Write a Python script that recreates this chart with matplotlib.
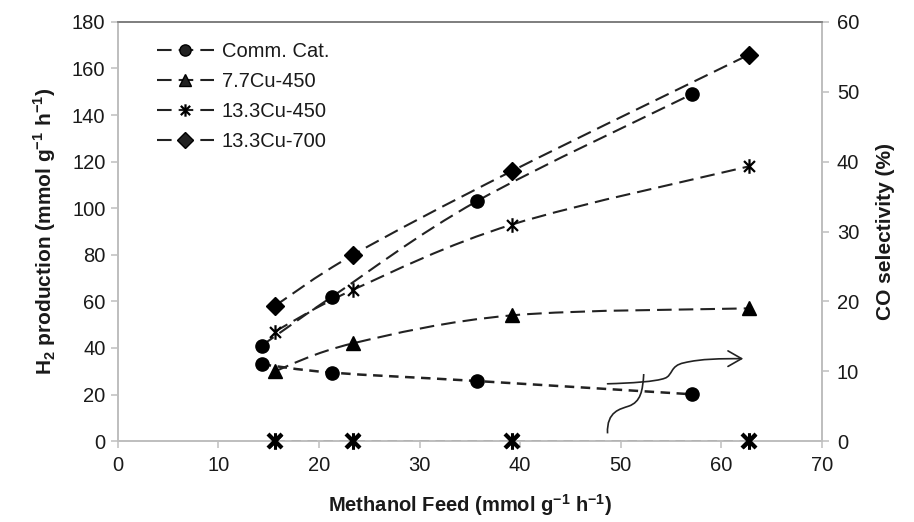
import matplotlib
matplotlib.use('Agg')
import matplotlib.pyplot as plt
from matplotlib.path import Path
from matplotlib.patches import PathPatch, FancyArrowPatch

plt.rcParams['font.family'] = ['Liberation Sans', 'DejaVu Sans']

# methanol feed (mmol g-1 h-1)
feed_comm = [14.3, 21.3, 35.7, 57.1]
feed_cu = [15.6, 23.4, 39.2, 62.8]

# H2 production (mmol g-1 h-1)
h2_comm = [41, 62, 103, 149]
h2_77_450 = [30, 42, 54, 57]
h2_133_450 = [47, 65, 93, 118]
h2_133_700 = [58, 80, 116, 166]

# CO selectivity (%)
co_comm = [11.0, 9.8, 8.6, 6.7]
co_cu = [0, 0, 0, 0]

labels = ['Comm. Cat.', '7.7Cu-450', '13.3Cu-450', '13.3Cu-700']

# arrow drawn over the CO curve (right axis coordinates)
brace_pts = [(48.7, 1.1), (48.6, 4.3), (50.0, 4.6), (50.8, 5.0),
             (52.0, 5.6), (52.2, 7.2), (52.3, 9.6)]
arrow_pts = [(48.7, 8.2), (51.0, 8.3), (53.5, 8.5), (54.4, 9.0),
             (55.2, 9.4), (54.9, 10.8), (56.3, 11.2),
             (58.0, 11.8), (60.0, 11.8), (62.2, 11.8)]

star = Path([(0, -1), (0, 1), (-0.75, -0.75), (0.75, 0.75), (-0.75, 0.75), (0.75, -0.75)],
            [Path.MOVETO, Path.LINETO] * 3)

long_dash = (0, (7, 3.4))
short_dash = (0, (3.8, 2.6))


def smooth(ax, x, y, ls, lw=1.5):
    # Excel style smoothed line through the points (Catmull-Rom as cubic Bezier)
    pts = list(zip(x, y))
    verts = [pts[0]]
    codes = [Path.MOVETO]
    for i in range(len(pts) - 1):
        p0 = pts[i - 1] if i > 0 else pts[i]
        p1 = pts[i]
        p2 = pts[i + 1]
        p3 = pts[i + 2] if i + 2 < len(pts) else pts[i + 1]
        c1 = (p1[0] + (p2[0] - p0[0]) / 6, p1[1] + (p2[1] - p0[1]) / 6)
        c2 = (p2[0] - (p3[0] - p1[0]) / 6, p2[1] - (p3[1] - p1[1]) / 6)
        verts += [c1, c2, p2]
        codes += [Path.CURVE4] * 3
    ax.add_patch(PathPatch(Path(verts, codes), fill=False, ec='#222222', lw=lw,
                           linestyle=ls, zorder=2))


fig = plt.figure(figsize=(9.14, 5.22), dpi=100)
ax = fig.add_axes([0.129, 0.155, 0.770, 0.803])
ax2 = ax.twinx()

series = [(feed_comm, h2_comm, 'o', 9.5),
          (feed_cu, h2_77_450, '^', 9.5),
          (feed_cu, h2_133_450, star, 10.5),
          (feed_cu, h2_133_700, 'D', 9)]
for (x, y, m, ms), lab in zip(series, labels):
    smooth(ax, x, y, long_dash)
    mew = 1.6 if m is star else 1
    ax.plot(x, y, linestyle='none', marker=m, ms=ms, color='black', mec='black',
            mew=mew, zorder=3)
    ax.plot([], [], linestyle=long_dash, lw=1.5, color='#222222', marker=m,
            ms=ms * 0.85, mec='black', mew=mew, label=lab)

smooth(ax2, feed_comm, co_comm, short_dash, lw=1.8)
ax2.plot(feed_comm, co_comm, linestyle='none', marker='o', ms=9.5, color='black', zorder=3)
ax2.plot(feed_cu, co_cu, linestyle=short_dash, lw=1.8, color='#222222', zorder=2)
ax2.plot(feed_cu, co_cu, linestyle='none', marker=star, ms=12, mec='black', mew=2.2,
         zorder=3, clip_on=False)
ax2.plot(feed_cu, co_cu, linestyle='none', marker='x', ms=10, mec='black', mew=3,
         zorder=3, clip_on=False)

# curly arrow
ax2.add_patch(PathPatch(Path(brace_pts, [Path.MOVETO] + [Path.CURVE4] * 6), fill=False,
                        ec='#222222', lw=1.2, zorder=4))
arr = FancyArrowPatch(path=Path(arrow_pts, [Path.MOVETO] + [Path.CURVE4] * 9),
                      arrowstyle='->,head_length=0.7,head_width=0.4', mutation_scale=14,
                      color='#222222', lw=1.2, transform=ax2.transData, zorder=4)
ax2.add_patch(arr)

ax.set_xlim(0, 70)
ax.set_ylim(0, 180)
ax2.set_ylim(0, 60)
ax.set_xticks(range(0, 71, 10))
ax.set_yticks(range(0, 181, 20))
ax2.set_yticks(range(0, 61, 10))

for a in (ax, ax2):
    for s in a.spines.values():
        s.set_color('#bfbfbf')
        s.set_linewidth(1.3)
    a.spines['top'].set_color('#808080')
    a.tick_params(labelsize=14.5, colors='#bfbfbf', labelcolor='#1a1a1a',
                  length=5, width=1.1, direction='out')
ax.tick_params(axis='x', pad=6)
ax.tick_params(axis='y', pad=4)
ax2.tick_params(axis='y', pad=6)

ax.set_xlabel('Methanol Feed (mmol g$^{\\mathregular{-1}}$ h$^{\\mathregular{-1}}$)',
              fontsize=14.5, fontweight='bold', color='#1a1a1a', labelpad=12)
ax.set_ylabel('H$_{\\mathregular{2}}$ production (mmol g$^{\\mathregular{-1}}$ h$^{\\mathregular{-1}}$)',
              fontsize=15, fontweight='bold', color='#1a1a1a', labelpad=10)
ax2.set_ylabel('CO selectivity (%)', fontsize=15, fontweight='bold', color='#1a1a1a',
               labelpad=12)

leg = ax.legend(loc='upper left', bbox_to_anchor=(0.03, 0.995), frameon=False,
                fontsize=14.5, handlelength=2.8, handletextpad=0.4, labelspacing=0.55)
for t in leg.get_texts():
    t.set_color('#1a1a1a')

fig.savefig('out.png', dpi=100)
